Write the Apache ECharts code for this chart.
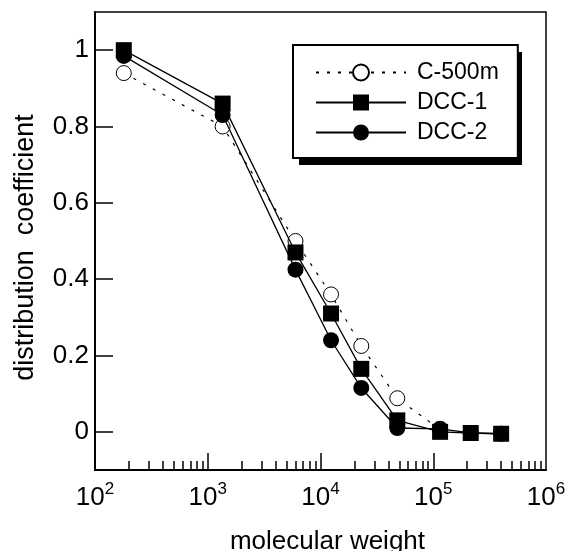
<!DOCTYPE html>
<html>
<head>
<meta charset="utf-8">
<script src="https://cdn.jsdelivr.net/npm/echarts@6/dist/echarts.min.js"></script>
<style>
  html, body { margin: 0; padding: 0; background: #fff; overflow: hidden; }
  #chart { width: 569px; height: 551px; }
</style>
</head>
<body>
<div id="chart"></div>
<script>
// Molecular weights of the probe solutes (x positions)
const molWeight = [180, 1355, 6000, 12400, 23000, 48000, 115000, 215000, 400000];
// Distribution coefficients per material
const c500m = [0.94, 0.80, 0.50, 0.36, 0.225, 0.088, 0.006];
const dcc1 = [1.0, 0.86, 0.47, 0.31, 0.165, 0.03, 0.0, -0.003, -0.005];
const dcc2 = [0.985, 0.83, 0.425, 0.24, 0.115, 0.01, 0.008, -0.003, -0.005];
// Axis ticks
const xDecades = [1e2, 1e3, 1e4, 1e5, 1e6];
const xMajorTicks = [1e3, 1e4, 1e5];
const xMinorMultipliers = [2, 3, 4, 5, 6, 7, 8, 9];
const yTicks = [0, 0.2, 0.4, 0.6, 0.8, 1];
const seriesNames = ['C-500m', 'DCC-1', 'DCC-2'];

const FONT = 'Liberation Sans, Arial, Helvetica, sans-serif';

const xMinorTicks = [];
[1e2, 1e3, 1e4, 1e5].forEach(d => xMinorMultipliers.forEach(m => xMinorTicks.push(m * d)));

const pairs = (ys) => ys.map((y, i) => [molWeight[i], y]);

const chart = echarts.init(document.getElementById('chart'), null, { renderer: 'canvas' });

chart.setOption({
  animation: false,
  backgroundColor: '#fff',
  grid: {
    left: 95, right: 23, top: 12, bottom: 81, outerBoundsMode: 'none',
    show: true, borderColor: '#000', borderWidth: 1.5, backgroundColor: 'transparent'
  },
  // solid drop shadow behind the legend box
  graphic: [{
    type: 'rect', left: 299, top: 52, z: 1,
    shape: { width: 223, height: 113 },
    style: { fill: '#000' }
  }],
  legend: {
    data: seriesNames,
    orient: 'vertical',
    left: 293, top: 45, z: 5,
    padding: [16, 19, 14, 22],
    itemWidth: 90, itemHeight: 20, itemGap: 7,
    backgroundColor: '#fff',
    borderColor: '#000', borderWidth: 2,
    textStyle: { fontFamily: FONT, fontSize: 23, color: '#000', lineHeight: 23, padding: [0, 0, 0, 6] },
    selectedMode: false
  },
  xAxis: [
    {
      type: 'log', logBase: 10, min: 100, max: 1e6, position: 'bottom',
      name: 'molecular weight', nameLocation: 'middle', nameGap: 59,
      nameTextStyle: { fontFamily: FONT, fontSize: 26, color: '#000', padding: [0, 0, 0, 14] },
      axisLine: { show: true, onZero: false, lineStyle: { color: '#000', width: 2 } },
      axisTick: { show: true, inside: true, length: 17, customValues: xMajorTicks, lineStyle: { color: '#000', width: 1.5 } },
      axisLabel: {
        customValues: xDecades,
        margin: 11,
        formatter: v => '{b|10}{s|' + Math.round(Math.log10(v)) + '}',
        rich: {
          b: { fontFamily: FONT, fontSize: 26, color: '#000', lineHeight: 30, verticalAlign: 'bottom' },
          s: { fontFamily: FONT, fontSize: 17, color: '#000', lineHeight: 18, verticalAlign: 'top' }
        }
      },
      splitLine: { show: false }, minorTick: { show: false }
    },
    {
      type: 'log', logBase: 10, min: 100, max: 1e6, position: 'bottom',
      axisLine: { show: false, onZero: false },
      axisTick: { show: true, inside: true, length: 9, customValues: xMinorTicks, lineStyle: { color: '#000', width: 1.5 } },
      axisLabel: { show: false },
      splitLine: { show: false }
    }
  ],
  yAxis: {
    type: 'value', min: -0.1, max: 1.1,
    name: 'distribution  coefficient', nameLocation: 'middle', nameRotate: 90, nameGap: 56,
    nameTextStyle: { fontFamily: FONT, fontSize: 27, color: '#000', padding: [0, 13, 0, 0] },
    axisLine: { show: true, onZero: false, lineStyle: { color: '#000', width: 2 } },
    axisTick: { show: true, inside: true, length: 18, customValues: yTicks, lineStyle: { color: '#000', width: 1.5 } },
    axisLabel: {
      customValues: yTicks, margin: 6,
      fontFamily: FONT, fontSize: 26, color: '#000',
      formatter: v => String(+v.toFixed(1))
    },
    splitLine: { show: false }
  },
  series: [
    {
      name: 'C-500m', type: 'line', data: pairs(c500m), z: 2,
      symbol: 'circle', symbolSize: 15,
      itemStyle: { color: '#fff', borderColor: '#000', borderWidth: 1 },
      lineStyle: { color: '#000', width: 1.2, type: [3, 8] }
    },
    {
      name: 'DCC-2', type: 'line', data: pairs(dcc2), z: 3,
      symbol: 'circle', symbolSize: 16,
      itemStyle: { color: '#000' },
      lineStyle: { color: '#000', width: 1.3 }
    },
    {
      name: 'DCC-1', type: 'line', data: pairs(dcc1), z: 4,
      symbol: 'rect', symbolSize: 16,
      itemStyle: { color: '#000' },
      lineStyle: { color: '#000', width: 1.3 }
    }
  ]
});
</script>
</body>
</html>
